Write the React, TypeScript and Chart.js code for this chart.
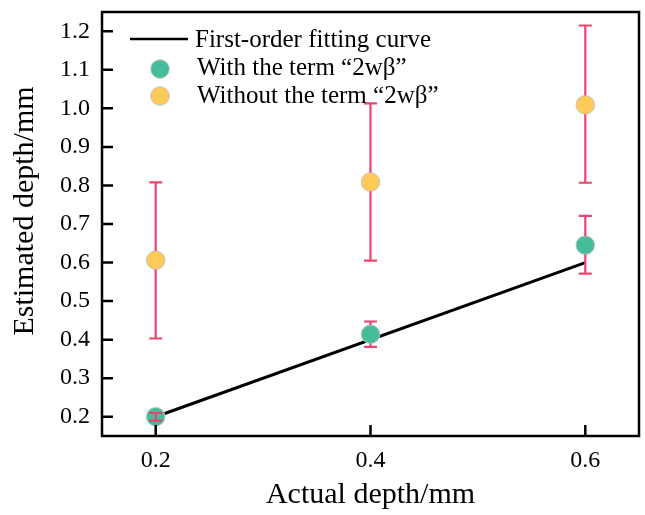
import React, { useEffect, useRef } from "react";
import { Chart, registerables } from "chart.js";

Chart.register(...registerables);

// ---- data ----
const actualDepth = [0.2, 0.4, 0.6];
const withTerm = [0.2, 0.414, 0.645];
const withTermLow = [0.19, 0.381, 0.571];
const withTermHigh = [0.21, 0.447, 0.721];
const withoutTerm = [0.606, 0.809, 1.009];
const withoutTermLow = [0.403, 0.605, 0.807];
const withoutTermHigh = [0.808, 1.013, 1.215];
const fitX = [0.2, 0.6];
const fitY = [0.2, 0.6];
const xTicks = [0.2, 0.4, 0.6];
const yTicks = [0.2, 0.3, 0.4, 0.5, 0.6, 0.7, 0.8, 0.9, 1.0, 1.1, 1.2];
const legendLabels = [
  "First-order fitting curve",
  "With the term \u201C2w\u03B2\u201D",
  "Without the term \u201C2w\u03B2\u201D",
];
const xTitle = "Actual depth/mm";
const yTitle = "Estimated depth/mm";

const GREEN = "#45BC9A";
const YELLOW = "#FFCB58";
const ERR = "#E8466F";
const MARKER_BORDER = "#C4C4C4";
const FONT = "'Liberation Serif', 'Times New Roman', serif";
const R = 9.3;
const PLOT_RIGHT = 639;

const decorPlugin = {
  id: "decor",
  afterLayout(chart: any) {
    const x = chart.scales.x;
    const a = chart.chartArea;
    a.right = PLOT_RIGHT;
    a.width = PLOT_RIGHT - a.left;
    x.right = PLOT_RIGHT;
    x.width = PLOT_RIGHT - x.left;
    x.configure();
  },
  afterDatasetsDraw(chart: any) {
    const ctx = chart.ctx;
    const x = chart.scales.x;
    const y = chart.scales.y;
    const drawBars = (vals: number[], lo: number[], hi: number[]) => {
      ctx.save();
      ctx.strokeStyle = ERR;
      ctx.lineWidth = 2.2;
      const cap = 6.5;
      for (let i = 0; i < actualDepth.length; i++) {
        const px = x.getPixelForValue(actualDepth[i]);
        const pc = y.getPixelForValue(vals[i]);
        const pl = y.getPixelForValue(lo[i]);
        const ph = y.getPixelForValue(hi[i]);
        ctx.beginPath();
        if (ph < pc - R) {
          ctx.moveTo(px, pc - R);
          ctx.lineTo(px, ph);
        } else {
          ctx.moveTo(px, pc);
          ctx.lineTo(px, ph);
        }
        if (pl > pc + R) {
          ctx.moveTo(px, pc + R);
          ctx.lineTo(px, pl);
        } else {
          ctx.moveTo(px, pc);
          ctx.lineTo(px, pl);
        }
        ctx.moveTo(px - cap, ph);
        ctx.lineTo(px + cap, ph);
        ctx.moveTo(px - cap, pl);
        ctx.lineTo(px + cap, pl);
        ctx.stroke();
      }
      ctx.restore();
    };
    drawBars(withoutTerm, withoutTermLow, withoutTermHigh);
    drawBars(withTerm, withTermLow, withTermHigh);
  },
  afterDraw(chart: any) {
    const ctx = chart.ctx;
    const a = chart.chartArea;
    const x = chart.scales.x;
    const y = chart.scales.y;
    ctx.save();
    // frame
    ctx.strokeStyle = "#000";
    ctx.lineWidth = 2.5;
    ctx.strokeRect(a.left, a.top, a.right - a.left, a.bottom - a.top);
    // inward ticks
    ctx.beginPath();
    const tl = 11;
    xTicks.forEach((v) => {
      const px = x.getPixelForValue(v);
      ctx.moveTo(px, a.bottom);
      ctx.lineTo(px, a.bottom - tl);
    });
    yTicks.forEach((v) => {
      const py = y.getPixelForValue(v);
      ctx.moveTo(a.left, py);
      ctx.lineTo(a.left + tl, py);
    });
    ctx.stroke();

    // y title
    ctx.save();
    ctx.translate(25, 211);
    ctx.rotate(-Math.PI / 2);
    ctx.font = `30px ${FONT}`;
    ctx.fillStyle = "#000";
    ctx.textAlign = "center";
    ctx.textBaseline = "middle";
    ctx.fillText(yTitle, 0, 0);
    ctx.restore();

    // legend
    ctx.font = `25px ${FONT}`;
    ctx.fillStyle = "#000";
    ctx.textAlign = "left";
    ctx.textBaseline = "middle";
    ctx.lineWidth = 2.5;
    ctx.beginPath();
    ctx.moveTo(130, 39);
    ctx.lineTo(188, 39);
    ctx.stroke();
    ctx.fillText(legendLabels[0], 195, 40);
    const dot = (cy: number, color: string) => {
      ctx.beginPath();
      ctx.arc(160, cy, R, 0, Math.PI * 2);
      ctx.fillStyle = color;
      ctx.fill();
      ctx.lineWidth = 1;
      ctx.strokeStyle = MARKER_BORDER;
      ctx.stroke();
    };
    dot(69, GREEN);
    dot(96, YELLOW);
    ctx.fillStyle = "#000";
    ctx.fillText(legendLabels[1], 197, 68);
    ctx.fillText(legendLabels[2], 197, 96);
    ctx.restore();
  },
};

const zeroPad = (s: any) => {
  s.paddingTop = 0;
  s.paddingBottom = 0;
  s.paddingLeft = 0;
  s.paddingRight = 0;
};

export default function App() {
  const ref = useRef<HTMLCanvasElement | null>(null);
  useEffect(() => {
    document.body.style.margin = "0";
    const canvas = ref.current;
    if (!canvas) return;
    const chart = new Chart(canvas, {
      type: "scatter",
      data: {
        datasets: [
          {
            type: "line",
            label: legendLabels[0],
            data: fitX.map((v, i) => ({ x: v, y: fitY[i] })),
            borderColor: "#000",
            borderWidth: 3,
            pointRadius: 0,
            fill: false,
            order: 3,
            clip: false,
          } as any,
          {
            label: legendLabels[2],
            data: actualDepth.map((v, i) => ({ x: v, y: withoutTerm[i] })),
            backgroundColor: YELLOW,
            borderColor: MARKER_BORDER,
            borderWidth: 1,
            pointRadius: R,
            order: 2,
            clip: false,
          },
          {
            label: legendLabels[1],
            data: actualDepth.map((v, i) => ({ x: v, y: withTerm[i] })),
            backgroundColor: GREEN,
            borderColor: MARKER_BORDER,
            borderWidth: 1,
            pointRadius: R,
            order: 1,
            clip: false,
          },
        ],
      },
      options: {
        animation: false,
        responsive: false,
        devicePixelRatio: 1,
        layout: { padding: { top: 12, right: 6, left: 0, bottom: 0 } },
        plugins: { legend: { display: false }, tooltip: { enabled: false } },
        scales: {
          x: {
            type: "linear",
            min: 0.15,
            max: 0.65,
            grid: { display: false, drawTicks: false },
            border: { display: false },
            afterBuildTicks: (s: any) => {
              s.ticks = xTicks.map((v) => ({ value: v }));
            },
            afterFit: (s: any) => {
              s.height = 79;
              zeroPad(s);
            },
            ticks: {
              padding: 10,
              color: "#000",
              font: { family: FONT, size: 24 },
              callback: (v: any) => Number(v).toFixed(1),
            },
            title: {
              display: true,
              text: xTitle,
              color: "#000",
              font: { family: FONT, size: 30 },
              padding: { top: 0, bottom: 2 },
            },
          },
          y: {
            type: "linear",
            min: 0.15,
            max: 1.25,
            grid: { display: false, drawTicks: false },
            border: { display: false },
            afterBuildTicks: (s: any) => {
              s.ticks = yTicks.map((v) => ({ value: v }));
            },
            afterFit: (s: any) => {
              s.width = 102;
              zeroPad(s);
            },
            ticks: {
              padding: 12,
              color: "#000",
              font: { family: FONT, size: 24 },
              callback: (v: any) => Number(v).toFixed(1),
            },
          },
        },
      },
      plugins: [decorPlugin],
    });
    return () => chart.destroy();
  }, []);
  return (
    <div style={{ width: 645, height: 515, overflow: "hidden" }}>
      <canvas
        ref={ref}
        width={645}
        height={515}
        style={{ width: 645, height: 515, display: "block" }}
      />
    </div>
  );
}
